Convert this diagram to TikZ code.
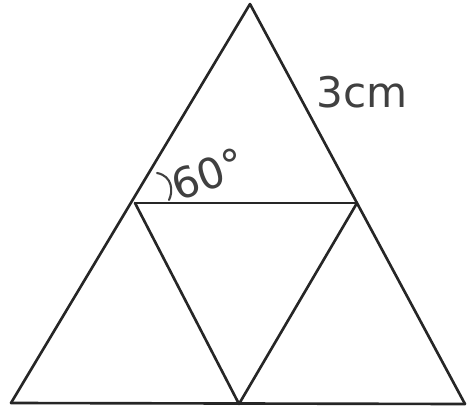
\documentclass[tikz,border=0pt]{standalone}
\usepackage{fontspec}
\setmainfont{DejaVu Sans}
\begin{document}
\begin{tikzpicture}[x=0.02cm,y=-0.02cm,
  edge/.style={draw=black!85,line width=1.5pt,line cap=round,line join=round},
  lbl/.style={text=black!75,font=\fontsize{24}{26}\selectfont,inner sep=0pt}]
\useasboundingbox (0,0) rectangle (467,410);
\coordinate (A) at (250,4);
\coordinate (L) at (11,403);
\coordinate (R) at (465,404);
\coordinate (ML) at (135,203);
\coordinate (MR) at (357,203);
\coordinate (MB) at (239,404);
\draw[edge] (A) -- (L);
\draw[edge] (A) -- (R);
\draw[edge] (L) -- (R);
\draw[edge] (ML) -- (MR);
\draw[edge] (ML) -- (MB);
\draw[edge] (MR) -- (MB);
\coordinate (arcS) at (157,173);
\coordinate (arcE) at (169,200);
\draw[edge,draw=black!75,line width=1.2pt] (arcS) .. controls (173,176) and (173,192) .. (arcE);
\node[lbl,rotate=20] (ang) at (208,174) {60°};
\node[lbl] (len) at (362,92) {3cm};
\end{tikzpicture}
\end{document}
